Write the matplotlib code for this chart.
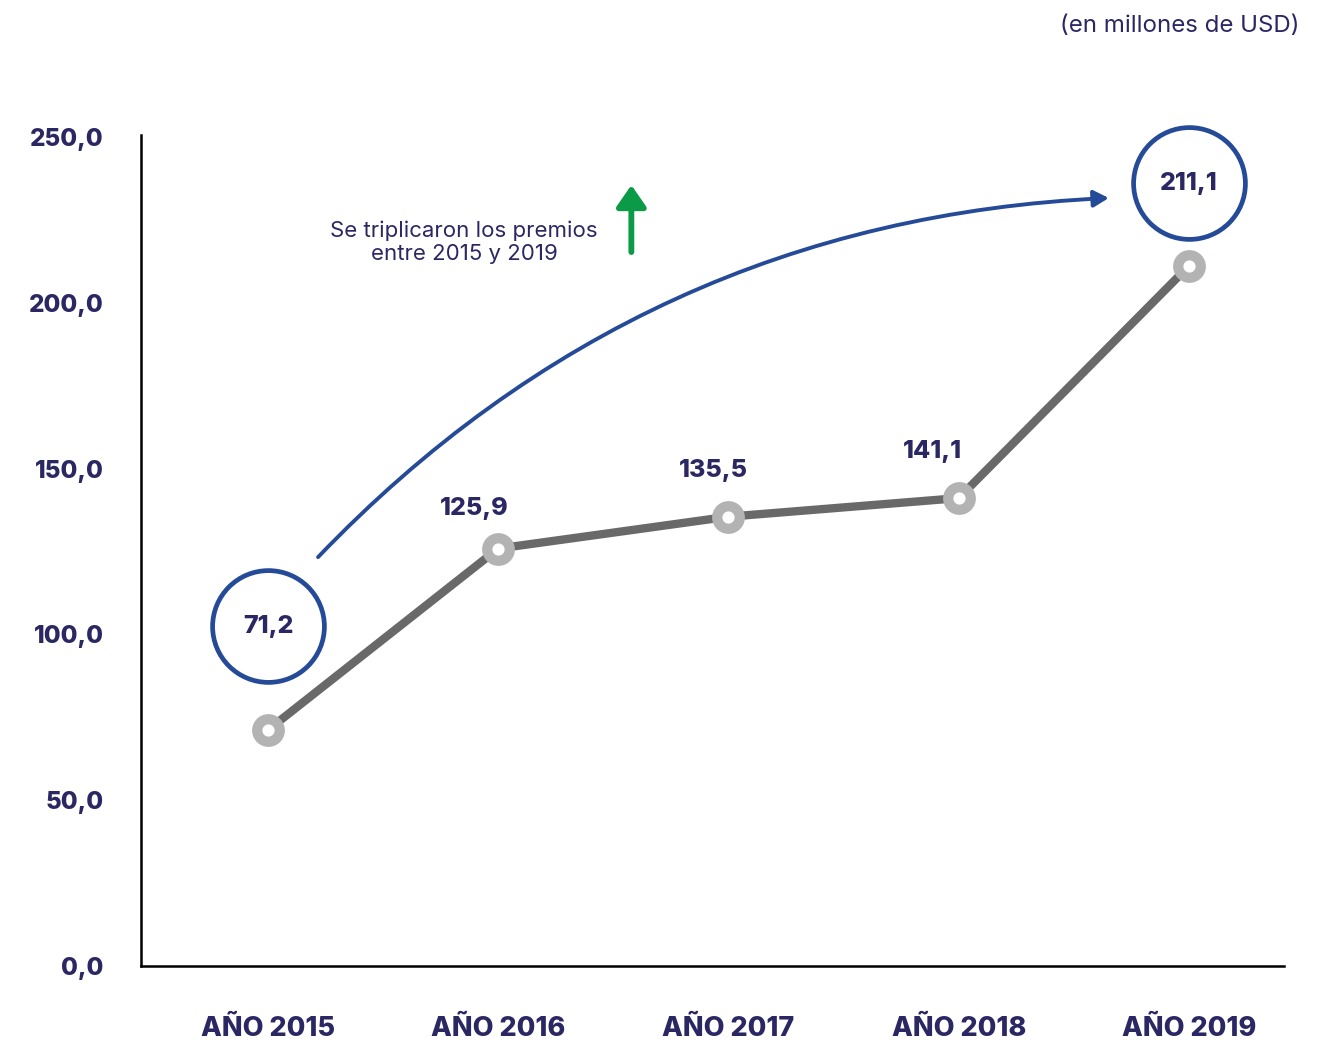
import matplotlib
matplotlib.use("Agg")
import matplotlib.pyplot as plt
import matplotlib.transforms as mtransforms
from matplotlib.patches import FancyArrowPatch

years = ["AÑO 2015", "AÑO 2016", "AÑO 2017", "AÑO 2018", "AÑO 2019"]
values = [71.2, 125.9, 135.5, 141.1, 211.1]
labels = ["71,2", "125,9", "135,5", "141,1", "211,1"]
yticks = [0, 50, 100, 150, 200, 250]
ytick_labels = ["0,0", "50,0", "100,0", "150,0", "200,0", "250,0"]

NAVY = "#2b2763"
GRAY = "#696969"
RING = "#b3b3b3"
BLUE = "#254b98"
GREEN = "#0b9a45"
FONT = ["Inter", "DejaVu Sans"]
BW = 800

fig = plt.figure(figsize=(13.36, 10.42), dpi=100)
ax = fig.add_axes([141/1336, 1-966/1042, (1284-141)/1336, (966-135)/1042])
x = list(range(len(years)))
ax.plot(x, values, color=GRAY, lw=6, zorder=2, solid_capstyle="round")
ax.plot(x, values, ls="none", marker="o", ms=16.2, mfc="white", mec=RING, mew=7.4, zorder=3)

ax.set_xlim(-0.552, 4.413)
ax.set_ylim(0, 250.6)
ax.set_yticks(yticks)
ax.set_yticklabels(ytick_labels, fontsize=17.5, fontweight=BW, color=NAVY, family=FONT)
ax.set_xticks(x)
ax.set_xticklabels(years, fontsize=19.5, fontweight=BW, color=NAVY, family=FONT)
ax.tick_params(axis="y", length=0, pad=27)
ax.tick_params(axis="x", length=0, pad=36)
for s in ["top", "right"]:
    ax.spines[s].set_visible(False)
for s in ["left", "bottom"]:
    ax.spines[s].set_linewidth(1.8)
    ax.spines[s].set_color("black")

# circled labels
circ_offsets = {0: 74.5, 4: 59.5}
for i, off in circ_offsets.items():
    ax.plot([x[i]], [values[i]], ls="none", marker="o", ms=80.5, mfc="white", mec=BLUE, mew=3.4,
            transform=ax.transData + mtransforms.ScaledTranslation(0, off/72, fig.dpi_scale_trans),
            zorder=4, clip_on=False)
    ax.annotate(labels[i], xy=(x[i], values[i]), xytext=(0, off), textcoords="offset points",
                ha="center", va="center", fontsize=18, fontweight=BW, color=NAVY, family=FONT, zorder=5)

mid_offsets = {1: (-17, 28.5), 2: (-11, 33), 3: (-19, 33.5)}
for i, (dx, dy) in mid_offsets.items():
    ax.annotate(labels[i], xy=(x[i], values[i]), xytext=(dx, dy), textcoords="offset points",
                ha="center", va="center", fontsize=18, fontweight=BW, color=NAVY, family=FONT)

# curved arrow
arr = FancyArrowPatch((0.217, 123.3), (3.652, 231.6), connectionstyle="arc3,rad=-0.2",
                      arrowstyle="-|>,head_length=9,head_width=5", lw=2.8, color=BLUE,
                      mutation_scale=1, shrinkA=0, shrinkB=0, zorder=3)
ax.add_patch(arr)

# green arrow
garr = FancyArrowPatch((1.578, 215.3), (1.578, 235.5), arrowstyle="-|>,head_length=13,head_width=9",
                       lw=4.2, color=GREEN, mutation_scale=1, shrinkA=0, shrinkB=0,
                       capstyle="round", zorder=3)
ax.add_patch(garr)

ax.text(0.851, 218.3, "Se triplicaron los premios\nentre 2015 y 2019", ha="center", va="center",
        fontsize=16, color=NAVY, family=FONT, linespacing=1.15)

fig.text(1300/1336, 1-26/1042, "(en millones de USD)", ha="right", va="center",
         fontsize=17.3, color=NAVY, family=FONT)

fig.savefig("out.png", dpi=100)
